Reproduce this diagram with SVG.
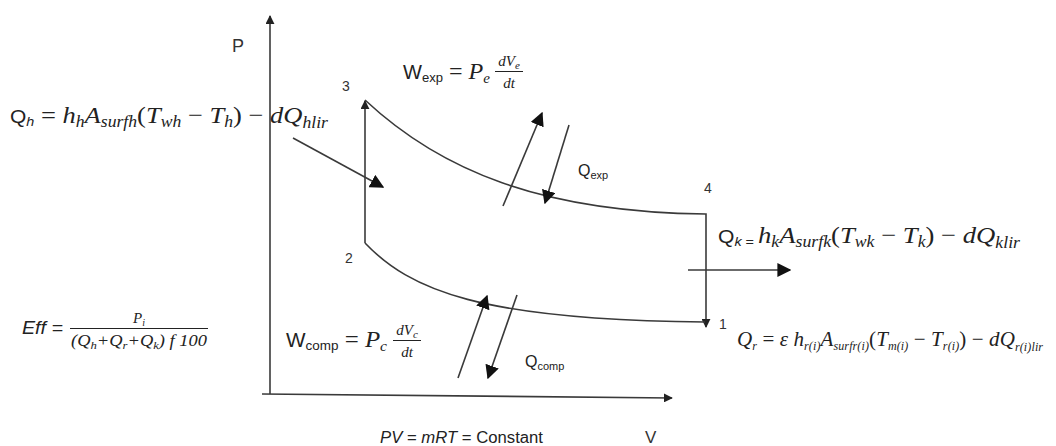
<svg xmlns="http://www.w3.org/2000/svg" width="1056" height="446" viewBox="0 0 1056 446">
<style>
.ln{stroke:#3a3a3a;stroke-width:1.6;fill:none}
.m{font-family:"Liberation Serif",serif;font-style:italic;font-size:24px;fill:#222}
.s{font-family:"Liberation Sans",sans-serif;font-style:normal;fill:#222}
.lab{font-family:"Liberation Sans",sans-serif;font-size:14px;fill:#333}
</style>
<defs>
<marker id="as" viewBox="0 0 10 10" refX="9" refY="5" markerWidth="9" markerHeight="9" markerUnits="userSpaceOnUse" orient="auto"><path d="M0,0 L10,5 L0,10 z" fill="#222"/></marker>
<marker id="al" viewBox="0 0 10 10" refX="9" refY="5" markerWidth="14" markerHeight="14" markerUnits="userSpaceOnUse" orient="auto"><path d="M0,0 L10,5 L0,10 z" fill="#111"/></marker>
</defs>
<rect width="1056" height="446" fill="#fff"/>

<g id="axes">
<line class="ln" x1="270" y1="394" x2="270" y2="16" marker-end="url(#as)"/>
<line class="ln" x1="262" y1="394" x2="672" y2="398" marker-end="url(#as)"/>
<text class="lab" x="232" y="52" style="font-size:18px">P</text>
<text class="lab" x="645" y="443" style="font-size:17px">V</text>
</g>

<g id="connectors">
<line class="ln" x1="365" y1="243" x2="365" y2="101" marker-end="url(#as)"/>
<path class="ln" d="M365,100 C440,170 540,212 706,214 L706,216"/>
<line class="ln" x1="706" y1="216" x2="706" y2="327" marker-end="url(#as)"/>
<path class="ln" d="M365,243 C410,290 480,320 705,322"/>
<line class="ln" x1="293" y1="138" x2="383" y2="187" marker-end="url(#al)"/>
<line class="ln" x1="503" y1="206" x2="542" y2="113" marker-end="url(#al)"/>
<line class="ln" x1="569" y1="125" x2="545" y2="203" marker-end="url(#al)"/>
<line class="ln" x1="458" y1="378" x2="487" y2="296" marker-end="url(#al)"/>
<line class="ln" x1="517" y1="295" x2="488" y2="378" marker-end="url(#al)"/>
<line class="ln" x1="688" y1="270" x2="790" y2="270" marker-end="url(#al)"/>
</g>

<g id="n3"><text class="lab" x="342" y="91">3</text></g>
<g id="n2"><text class="lab" x="345" y="263">2</text></g>
<g id="n4"><text class="lab" x="704" y="193">4</text></g>
<g id="n1"><text class="lab" x="719" y="329">1</text></g>

<g id="qh">
<text class="m" x="10" y="123" textLength="318" lengthAdjust="spacingAndGlyphs"><tspan class="s" style="font-size:19px">Q</tspan><tspan class="s" style="font-size:13px;font-style:italic" dy="3">h</tspan><tspan dy="-3" style="font-style:normal"> = </tspan>h<tspan style="font-size:16px" dy="4">h</tspan><tspan dy="-4">A</tspan><tspan style="font-size:16px" dy="4">surfh</tspan><tspan dy="-4" style="font-style:normal">(</tspan>T<tspan style="font-size:16px" dy="4">wh</tspan><tspan dy="-4" style="font-style:normal"> − </tspan>T<tspan style="font-size:16px" dy="4">h</tspan><tspan dy="-4" style="font-style:normal">) − </tspan>dQ<tspan style="font-size:16px" dy="5">hlir</tspan></text>
</g>

<g id="wexp">
<text class="m" x="403" y="79" textLength="87" lengthAdjust="spacingAndGlyphs"><tspan class="s" style="font-size:20px">W</tspan><tspan class="s" style="font-size:13px" dy="3">exp</tspan><tspan dy="-3" style="font-style:normal"> = </tspan>P<tspan style="font-size:15px" dy="4">e</tspan></text>
<text class="m" x="509" y="66" text-anchor="middle" style="font-size:15px">dV<tspan style="font-size:11px" dy="3">e</tspan></text>
<line x1="495" y1="71.5" x2="523" y2="71.5" stroke="#222" stroke-width="1"/>
<text class="m" x="509" y="88" text-anchor="middle" style="font-size:15px">dt</text>
</g>

<g id="qexp">
<text class="s" x="578" y="176" style="font-size:16px">Q<tspan style="font-size:11px" dy="3">exp</tspan></text>
</g>

<g id="qk">
<text class="m" x="718" y="243" textLength="302" lengthAdjust="spacingAndGlyphs"><tspan class="s" style="font-size:19px">Q</tspan><tspan class="s" style="font-size:13px;font-style:italic" dy="3">k</tspan><tspan class="s" style="font-size:13px"> = </tspan><tspan dy="-3">h</tspan><tspan style="font-size:16px" dy="4">k</tspan><tspan dy="-4">A</tspan><tspan style="font-size:16px" dy="4">surfk</tspan><tspan dy="-4" style="font-style:normal">(</tspan>T<tspan style="font-size:16px" dy="4">wk</tspan><tspan dy="-4" style="font-style:normal"> − </tspan>T<tspan style="font-size:16px" dy="4">k</tspan><tspan dy="-4" style="font-style:normal">) − </tspan>dQ<tspan style="font-size:16px" dy="5">klir</tspan></text>
</g>

<g id="wcomp">
<text class="m" x="286" y="347" textLength="101" lengthAdjust="spacingAndGlyphs"><tspan class="s" style="font-size:20px">W</tspan><tspan class="s" style="font-size:13px" dy="3">comp</tspan><tspan dy="-3" style="font-style:normal"> = </tspan>P<tspan style="font-size:15px" dy="4">c</tspan></text>
<text class="m" x="407" y="335" text-anchor="middle" style="font-size:15px">dV<tspan style="font-size:11px" dy="3">c</tspan></text>
<line x1="393" y1="340.5" x2="421" y2="340.5" stroke="#222" stroke-width="1"/>
<text class="m" x="407" y="357" text-anchor="middle" style="font-size:15px">dt</text>
</g>

<g id="qcomp">
<text class="s" x="525" y="367" style="font-size:16px">Q<tspan style="font-size:11px" dy="3">comp</tspan></text>
</g>

<g id="qr">
<text class="m" x="737" y="346" textLength="306" lengthAdjust="spacing" style="font-size:21px">Q<tspan style="font-size:12px" dy="4">r</tspan><tspan dy="-4" style="font-style:normal"> = </tspan>ε h<tspan style="font-size:12px" dy="4">r(i)</tspan><tspan dy="-4">A</tspan><tspan style="font-size:12px" dy="4">surfr(i)</tspan><tspan dy="-4" style="font-style:normal">(</tspan>T<tspan style="font-size:12px" dy="4">m(i)</tspan><tspan dy="-4" style="font-style:normal"> − </tspan>T<tspan style="font-size:12px" dy="4">r(i)</tspan><tspan dy="-4" style="font-style:normal">) − </tspan>dQ<tspan style="font-size:12px" dy="5">r(i)lir</tspan></text>
</g>

<g id="eff">
<text class="s" x="22" y="334" style="font-size:19px;font-style:italic" textLength="41" lengthAdjust="spacingAndGlyphs">Eff =</text>
<text class="m" x="139" y="323" text-anchor="middle" style="font-size:15px">P<tspan style="font-size:10px" dy="3">i</tspan></text>
<line x1="70" y1="328.5" x2="208" y2="328.5" stroke="#222" stroke-width="1.2"/>
<text class="m" x="71" y="346" style="font-size:16px" textLength="136" lengthAdjust="spacingAndGlyphs">(Q<tspan style="font-size:11px" dy="3">h</tspan><tspan dy="-3">+Q</tspan><tspan style="font-size:11px" dy="3">r</tspan><tspan dy="-3">+Q</tspan><tspan style="font-size:11px" dy="3">k</tspan><tspan dy="-3">) f 100</tspan></text>
</g>

<g id="pv">
<text class="s" x="380" y="443" style="font-size:16px" textLength="163" lengthAdjust="spacingAndGlyphs"><tspan style="font-style:italic">PV</tspan> = <tspan style="font-style:italic">mRT</tspan> = Constant</text>
</g>
</svg>
